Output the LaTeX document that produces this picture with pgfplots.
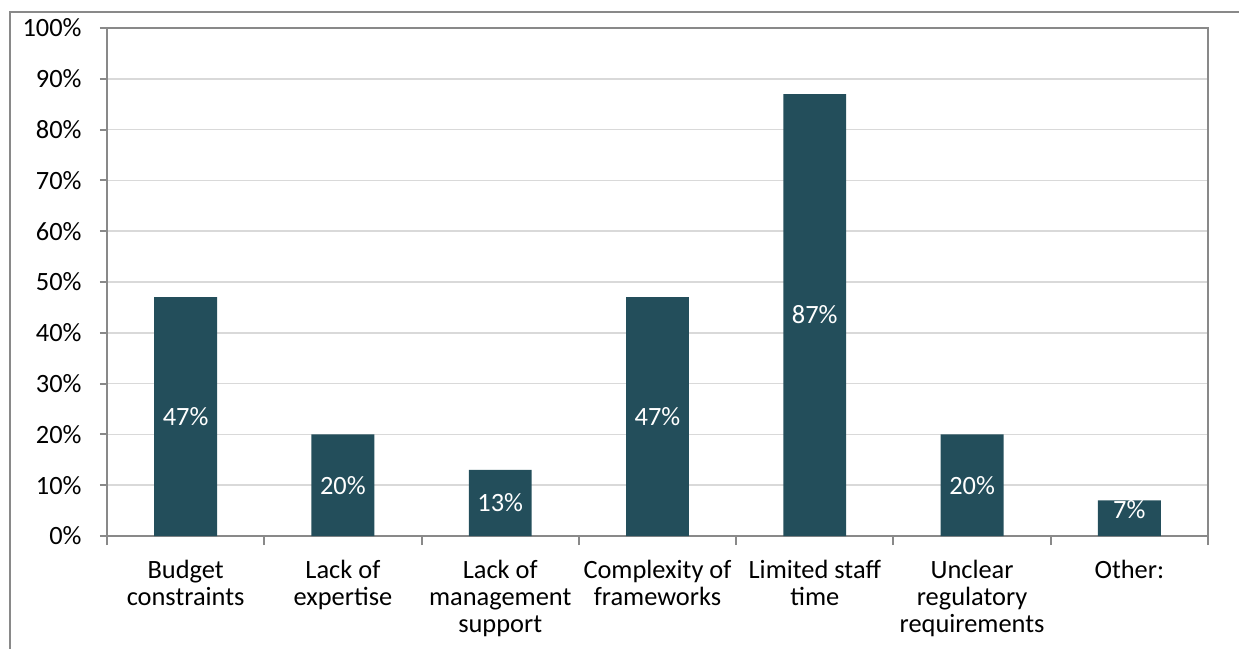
\documentclass[border=0pt]{standalone}
\usepackage{pgfplots}
\pgfplotsset{compat=1.18}
\usepackage{fontspec}
\setmainfont{Carlito}
\definecolor{barc}{RGB}{35,78,91}
\definecolor{axc}{RGB}{137,137,137}
\definecolor{gridc}{RGB}{217,217,217}
\begin{document}
\begin{tikzpicture}
\clip (-53.5pt,-56.5pt) rectangle (566pt,268pt);
\begin{axis}[
  at={(0,0)}, anchor=south west,
  scale only axis, width=550.5pt, height=254pt,
  xmin=-0.5, xmax=6.5, ymin=0, ymax=100,
  axis line style={draw=axc, line width=1pt},
  ytick={0,10,...,100},
  yticklabels={0\%,10\%,20\%,30\%,40\%,50\%,60\%,70\%,80\%,90\%,100\%},
  ymajorgrids, major grid style={draw=gridc, line width=0.75pt},
  ytick style={draw=axc, line width=1pt},
  xtick pos=bottom, ytick pos=left,
  tick align=outside,
  major tick length=3.5pt,
  yticklabel style={font=\fontsize{13.2}{13.5}\selectfont, anchor=east, inner sep=0pt, xshift=-9pt},
  xtick={0,...,6},
  xticklabels={Budget\\constraints, Lack of\\expertise, Lack of\\management\\support, Complexity of\\frameworks, Limited staff\\time, Unclear\\regulatory\\requirements, Other:},
  xticklabel style={font=\fontsize{13.2}{13.5}\selectfont, align=center, anchor=north, inner sep=0pt, yshift=-8.5pt},
  xtick style={draw=none},
  minor xtick={-0.5,0.5,...,6.5},
  minor x tick style={draw=axc, line width=1pt},
  minor tick length=4.5pt,
  bar width=0.4,
  clip=false,
]
\addplot[ybar, fill=barc, draw=none] coordinates {(0,47) (1,20) (2,13) (3,47) (4,87) (5,20) (6,7)};
\addplot[only marks, mark=none, nodes near coords, point meta=explicit symbolic,
  every node near coord/.style={anchor=center, text=white, font=\fontsize{13.2}{13.5}\selectfont, inner sep=0pt}]
  coordinates {(0,23.5)[47\%] (1,10)[20\%] (2,6.5)[13\%] (3,23.5)[47\%] (4,43.5)[87\%] (5,10)[20\%] (6,5.1)[7\%]};
\end{axis}
\draw[draw=axc, line width=0.75pt] (-48.5pt,-60pt) -- (-48.5pt,262pt) -- (570pt,262pt);
\end{tikzpicture}
\end{document}
